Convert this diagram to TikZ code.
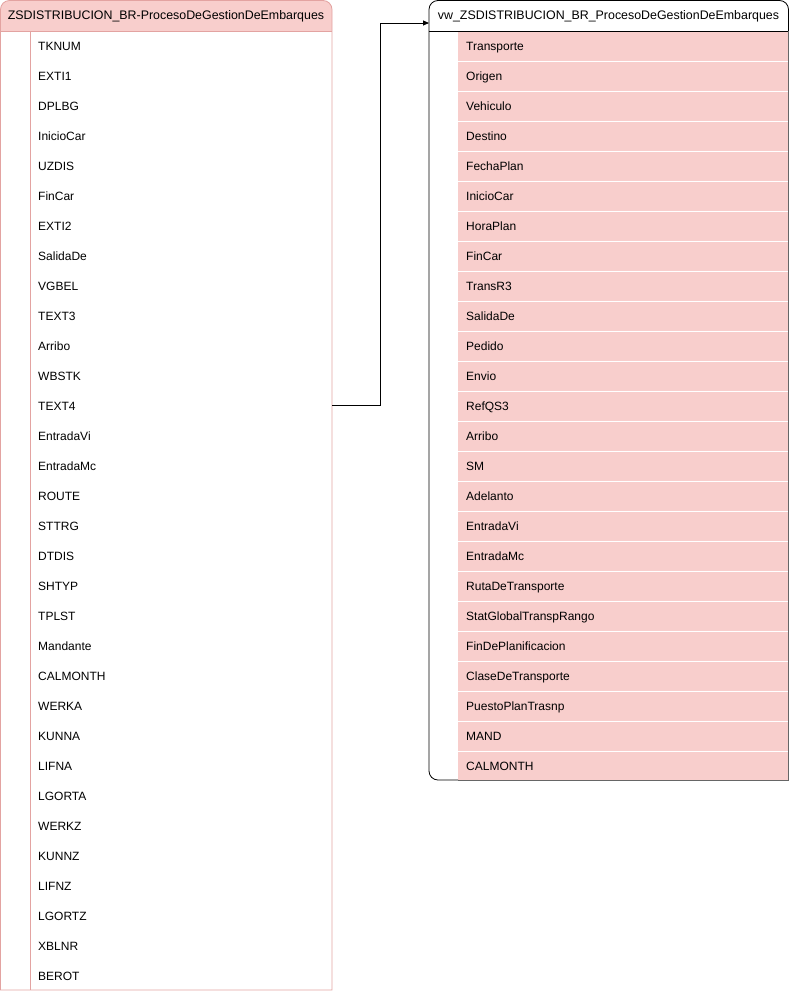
\documentclass[tikz,border=0pt]{standalone}
\usepackage{fontspec}
\setmainfont{Liberation Sans}
\usetikzlibrary{arrows.meta}
\definecolor{pinkfill}{HTML}{F8CECC}
\definecolor{pinkline}{HTML}{E3A3A1}
\begin{document}
\begin{tikzpicture}[x=1pt,y=-1pt,
  field/.style={anchor=west,font=\fontsize{12}{14}\selectfont,inner sep=0pt,text height=8.6pt,text depth=0pt},
  head/.style={anchor=center,font=\fontsize{12.4}{14}\selectfont,inner sep=0pt,text height=9pt,text depth=2.5pt}]
\useasboundingbox (0,0) rectangle (789,991);
% ---- left table ----
\fill[pinkfill] (0.5,31) -- (0.5,9.5) arc[start angle=180,end angle=270,radius=9] -- (323,0.5) arc[start angle=270,end angle=360,radius=9] -- (332,31) -- cycle;
\draw[pinkline,line width=0.8pt] (0.5,990) -- (0.5,9.5) arc[start angle=180,end angle=270,radius=9] -- (323,0.5) arc[start angle=270,end angle=360,radius=9] -- (332,990) -- cycle;
\draw[pinkline,line width=0.8pt] (0.5,31) -- (332,31);
\draw[pinkline,line width=0.6pt] (30,31) -- (30,990);
\node[head] (lh) at (166,16) {ZSDISTRIBUCION\_BR-ProcesoDeGestionDeEmbarques};
\foreach \t [count=\i from 0] in {TKNUM,EXTI1,DPLBG,InicioCar,UZDIS,FinCar,EXTI2,SalidaDe,VGBEL,TEXT3,Arribo,WBSTK,TEXT4,EntradaVi,EntradaMc,ROUTE,STTRG,DTDIS,SHTYP,TPLST,Mandante,CALMONTH,WERKA,KUNNA,LIFNA,LGORTA,WERKZ,KUNNZ,LIFNZ,LGORTZ,XBLNR,BEROT}{
  \node[field] (l\i) at (38,46+30*\i) {\t};
}
\coordinate (lt4) at (332,405);
% ---- right table ----
\fill[pinkfill] (458,31) rectangle (789,780);
\foreach \k in {1,...,24}{\draw[white,line width=0.8pt] (458,31+30*\k) -- (789,31+30*\k);}
\draw[black,line width=0.8pt,rounded corners=9pt] (458,780) -- (429,780) -- (429,0.5) -- (788.5,0.5) -- (788.5,31);
\draw[black,line width=0.8pt] (429,31) -- (788.5,31);
\draw[black!60,line width=0.6pt] (458,780) -- (788.5,780) -- (788.5,31);
\node[head] (rh) at (608.5,16) {vw\_ZSDISTRIBUCION\_BR\_ProcesoDeGestionDeEmbarques};
\foreach \t [count=\i from 0] in {Transporte,Origen,Vehiculo,Destino,FechaPlan,InicioCar,HoraPlan,FinCar,TransR3,SalidaDe,Pedido,Envio,RefQS3,Arribo,SM,Adelanto,EntradaVi,EntradaMc,RutaDeTransporte,StatGlobalTranspRango,FinDePlanificacion,ClaseDeTransporte,PuestoPlanTrasnp,MAND,CALMONTH}{
  \node[field] (r\i) at (466,46+30*\i) {\t};
}
\coordinate (rin) at (429,23);
% ---- connector ----
\draw[line width=0.8pt,-{Triangle[length=6pt,width=5pt]}] (lt4) -- (380,405) -- (380,23) -- (rin);
\end{tikzpicture}
\end{document}
